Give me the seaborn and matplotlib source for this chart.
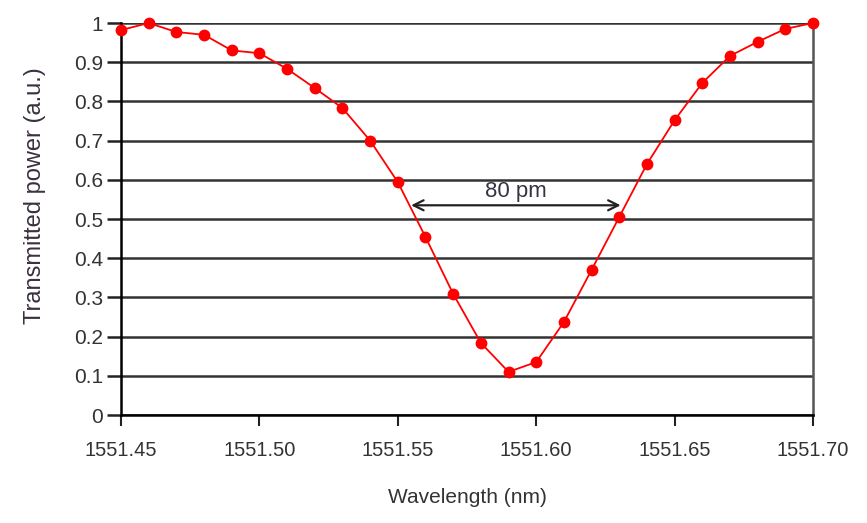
import matplotlib
matplotlib.use("Agg")
import matplotlib.pyplot as plt
import numpy as np
import pandas as pd
import seaborn as sns

# wavelength (nm) and normalised transmission
wavelength = [1551.45, 1551.46, 1551.47, 1551.48, 1551.49, 1551.50, 1551.51,
              1551.52, 1551.53, 1551.54, 1551.55, 1551.56, 1551.57, 1551.58,
              1551.59, 1551.60, 1551.61, 1551.62, 1551.63, 1551.64, 1551.65,
              1551.66, 1551.67, 1551.68, 1551.69, 1551.70]
power = [0.982, 1.0, 0.977, 0.970, 0.930, 0.923, 0.883, 0.834, 0.783, 0.700,
         0.594, 0.454, 0.309, 0.184, 0.110, 0.135, 0.237, 0.370, 0.505, 0.640,
         0.752, 0.847, 0.916, 0.952, 0.985, 1.0]

fwhm_left, fwhm_right, fwhm_level = 1551.5548, 1551.6305, 0.535
fwhm_label = "80 pm"

df = pd.DataFrame({"wavelength": wavelength, "power": power})

sns.set_style("white")
plt.rcParams["font.family"] = ["Liberation Sans", "DejaVu Sans"]

fig = plt.figure(figsize=(8.67, 5.23), dpi=100)
ax = fig.add_axes([0.1396, 0.2065, 0.7981, 0.7495])

sns.lineplot(data=df, x="wavelength", y="power", ax=ax, color="#ff0000",
             marker="o", markersize=8.5, markeredgewidth=0, linewidth=1.3,
             zorder=3, clip_on=False)

ax.set_xlim(1551.45, 1551.70)
ax.set_ylim(0, 1)
xt = np.round(np.arange(1551.45, 1551.701, 0.05), 2)
ax.set_xticks(xt)
ax.set_xticklabels([f"{t:.2f}" for t in xt])
ax.set_yticks(np.round(np.arange(0, 1.01, 0.1), 1))
ax.set_yticklabels(["0"] + [f"{v:.1f}" for v in np.arange(0.1, 0.95, 0.1)] + ["1"])

ax.yaxis.grid(True, color="#333333", linewidth=1.8)
ax.set_axisbelow(True)
ax.spines["top"].set_visible(False)
ax.spines["left"].set_color("black")
ax.spines["left"].set_linewidth(1.8)
ax.spines["bottom"].set_color("black")
ax.spines["bottom"].set_linewidth(1.8)
ax.spines["right"].set_color("#555555")
ax.spines["right"].set_linewidth(1.8)

ax.tick_params(axis="y", direction="out", length=10, width=1.8, color="#222222",
               labelsize=15, pad=3, left=True, labelcolor="#333333")
ax.tick_params(axis="x", direction="out", length=8, width=1.5, color="#222222",
               labelsize=14.5, pad=11, bottom=True, labelcolor="#333333")

ax.annotate("", xy=(fwhm_left, fwhm_level), xytext=(fwhm_right, fwhm_level),
            arrowprops=dict(arrowstyle="<->", color="#222222", lw=1.6,
                            mutation_scale=18, shrinkA=0, shrinkB=0), zorder=4)
ax.text((fwhm_left + fwhm_right) / 2, fwhm_level + 0.008, fwhm_label,
        ha="center", va="bottom", fontsize=16, color="#333344")

ax.set_xlabel("Wavelength (nm)", fontsize=15, labelpad=20, color="#333333")
ax.set_ylabel("Transmitted power (a.u.)", fontsize=17, labelpad=10, color="#3a3040")
ax.yaxis.set_label_coords(-0.108, 0.56)

fig.savefig("out.png", dpi=100)
